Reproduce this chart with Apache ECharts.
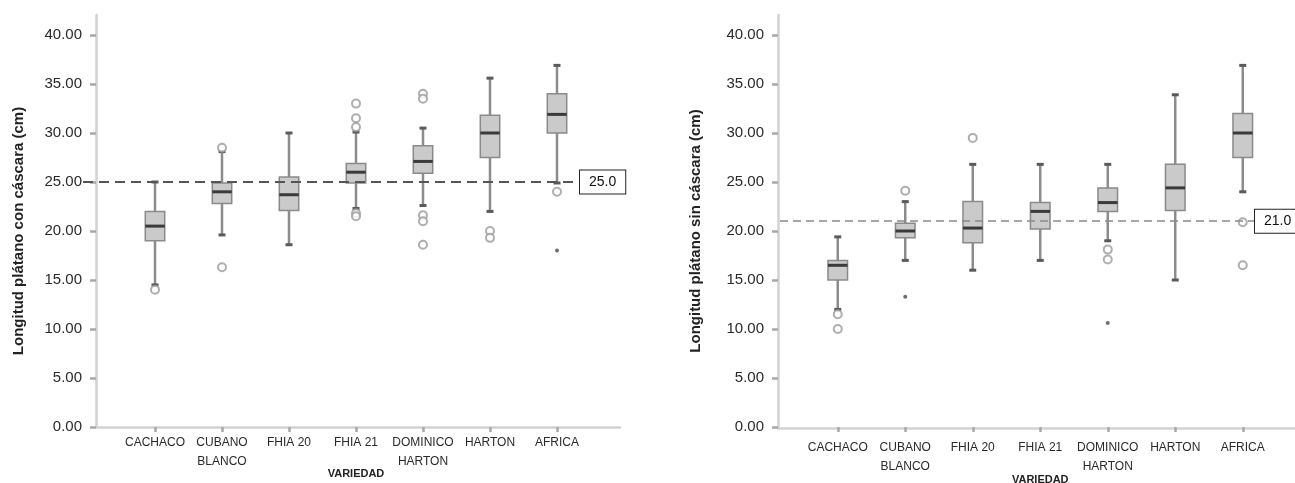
<!DOCTYPE html>
<html>
<head>
<meta charset="utf-8">
<script src="https://cdn.jsdelivr.net/npm/echarts@6/dist/echarts.min.js"></script>
<style>
  html, body { margin: 0; padding: 0; background: #fff; }
  #chart { width: 1295px; height: 483px; }
</style>
</head>
<body>
<div id="chart"></div>
<script>
  // categorias (eje x)
  const categories = ['CACHACO', 'CUBANO\nBLANCO', 'FHIA 20', 'FHIA 21', 'DOMINICO\nHARTON', 'HARTON', 'AFRICA']
  // eje y
  const yMin = 0
  const yMax = 40
  const yStep = 5

  // con cascara: [min, Q1, mediana, Q3, max]
  const conCascaraBox = [
    [14.5, 19.0, 20.5, 22.0, 25.0],
    [19.6, 22.8, 24.0, 24.9, 28.1],
    [18.6, 22.1, 23.7, 25.5, 30.0],
    [22.3, 24.9, 26.0, 26.9, 30.1],
    [22.6, 25.9, 27.1, 28.7, 30.5],
    [22.0, 27.5, 30.0, 31.8, 35.6],
    [24.9, 30.0, 31.9, 34.0, 36.9],
  ]
  const conCascaraOutliers = [
    [0, 14.0], [1, 28.5], [1, 16.3],
    [3, 33.0], [3, 31.5], [3, 30.6], [3, 21.8], [3, 21.5],
    [4, 34.0], [4, 33.5], [4, 21.6], [4, 21.0], [4, 18.6],
    [5, 20.0], [5, 19.3], [6, 24.0],
  ]
  const conCascaraExtremes = [[6, 18.0]]
  const conCascaraRef = 25.0

  // sin cascara
  const sinCascaraBox = [
    [12.0, 15.0, 16.5, 17.0, 19.4],
    [17.0, 19.3, 20.0, 20.8, 23.0],
    [16.0, 18.8, 20.3, 23.0, 26.8],
    [17.0, 20.2, 22.0, 22.9, 26.8],
    [19.0, 22.0, 22.9, 24.4, 26.8],
    [15.0, 22.1, 24.4, 26.8, 33.9],
    [24.0, 27.5, 30.0, 32.0, 36.9],
  ]
  const sinCascaraOutliers = [
    [0, 11.5], [0, 10.0], [1, 24.1], [2, 29.5],
    [4, 18.1], [4, 17.1], [6, 20.9], [6, 16.5],
  ]
  const sinCascaraExtremes = [[1, 13.3], [4, 10.6]]
  const sinCascaraRef = 21.0

  const font = "'Liberation Sans', Arial, sans-serif"

  const renderBox = (params, api) => {
    const idx = api.value(0)
    const low = api.coord([idx, api.value(1)])
    const q1 = api.coord([idx, api.value(2)])
    const med = api.coord([idx, api.value(3)])
    const q3 = api.coord([idx, api.value(4)])
    const high = api.coord([idx, api.value(5)])
    const w = api.size([1, 0])[0] * 0.29
    const x = low[0]
    const cap = 3.5
    const whisker = { stroke: '#8c8c8c', lineWidth: 2.5 }
    const capStyle = { stroke: '#5a5a5a', lineWidth: 3 }
    return {
      type: 'group',
      children: [
        { type: 'line', shape: { x1: x, y1: high[1], x2: x, y2: q3[1] }, style: whisker },
        { type: 'line', shape: { x1: x, y1: q1[1], x2: x, y2: low[1] }, style: whisker },
        { type: 'line', shape: { x1: x - cap, y1: high[1], x2: x + cap, y2: high[1] }, style: capStyle },
        { type: 'line', shape: { x1: x - cap, y1: low[1], x2: x + cap, y2: low[1] }, style: capStyle },
        {
          type: 'rect',
          shape: { x: x - w / 2, y: q3[1], width: w, height: q1[1] - q3[1] },
          style: { fill: '#cacaca', stroke: '#8a8a8a', lineWidth: 1.5 },
        },
        { type: 'line', shape: { x1: x - w / 2, y1: med[1], x2: x + w / 2, y2: med[1] }, style: { stroke: '#3a3a3a', lineWidth: 3 } },
      ],
    }
  }

  const grid = []
  const xAxis = []
  const yAxis = []
  const series = []

  // arma un panel: un grid "marco" para las lineas de ejes y otro para los datos
  const addPanel = p => {
    const g = grid.length
    grid.push(
      Object.assign({ outerBoundsMode: 'none', containLabel: false }, p.frame),
      Object.assign({ outerBoundsMode: 'none', containLabel: false }, p.data)
    )
    xAxis.push(
      {
        gridIndex: g, type: 'value', min: 0, max: 1,
        axisLine: { show: true, lineStyle: { color: '#d2d2d2', width: 2.5 } },
        axisTick: { show: false }, axisLabel: { show: false }, splitLine: { show: false },
      },
      {
        gridIndex: g + 1, type: 'category', data: categories, boundaryGap: true,
        axisLine: { show: false },
        axisTick: { show: true, alignWithLabel: true, length: 5, lineStyle: { color: '#a8a8a8', width: 2.5 } },
        axisLabel: { margin: p.labelMargin, fontSize: 12, lineHeight: 19, color: '#2a2a2a', fontFamily: font, interval: 0 },
        name: 'VARIEDAD', nameLocation: 'middle', nameGap: p.xNameGap, nameMoveOverlap: false,
        nameTextStyle: { fontSize: 11, fontWeight: 'bold', color: '#222', fontFamily: font },
      }
    )
    yAxis.push(
      {
        gridIndex: g, type: 'value', min: 0, max: 1,
        axisLine: { show: true, lineStyle: { color: '#d2d2d2', width: 2.5 } },
        axisTick: { show: false }, axisLabel: { show: false }, splitLine: { show: false },
      },
      {
        gridIndex: g + 1, type: 'value', min: yMin, max: yMax, interval: yStep,
        offset: p.data.left - p.frame.left,
        axisLine: { show: false },
        axisTick: { show: true, length: 6, lineStyle: { color: '#a8a8a8', width: 2.5 } },
        axisLabel: { margin: 14, fontSize: 15, color: '#2a2a2a', fontFamily: font, formatter: v => v.toFixed(2) },
        splitLine: { show: false },
        name: p.yName, nameLocation: 'middle', nameGap: p.yNameGap, nameRotate: 90, nameMoveOverlap: false,
        nameTextStyle: { fontSize: 15, fontWeight: 'bold', color: '#222', fontFamily: font },
      }
    )
    series.push(
      {
        type: 'custom',
        xAxisIndex: g + 1,
        yAxisIndex: g + 1,
        renderItem: renderBox,
        encode: { x: 0, y: [1, 2, 3, 4, 5] },
        data: p.box.map((b, i) => [i].concat(b)),
        z: 2,
      },
      {
        type: 'scatter',
        xAxisIndex: g + 1,
        yAxisIndex: g + 1,
        symbol: 'emptyCircle',
        symbolSize: 8,
        itemStyle: { color: '#9a9a9a', borderWidth: 1.5 },
        data: p.outliers,
        z: 3,
        markLine: {
          silent: true,
          symbol: 'none',
          lineStyle: p.refStyle,
          label: {
            show: true, position: 'end', distance: 0, formatter: p.ref.toFixed(1),
            fontSize: 14, color: '#111', fontFamily: font,
            backgroundColor: '#fff', borderColor: '#222', borderWidth: 1, padding: [5, 9, 4, 9],
          },
          data: [[{ x: p.refFrom, yAxis: p.ref }, { x: p.refTo, yAxis: p.ref }]],
        },
      },
      {
        type: 'scatter',
        xAxisIndex: g + 1,
        yAxisIndex: g + 1,
        symbol: 'circle',
        symbolSize: 4,
        itemStyle: { color: '#4a4a4a' },
        data: p.extremes,
        z: 3,
      }
    )
  }

  addPanel({
    frame: { left: 96, top: 15, width: 524, height: 412 },
    data: { left: 121.5, top: 35, width: 469, height: 392 },
    labelMargin: 6,
    xNameGap: 41,
    yName: 'Longitud plátano con cáscara (cm)',
    yNameGap: 70,
    box: conCascaraBox,
    outliers: conCascaraOutliers,
    extremes: conCascaraExtremes,
    ref: conCascaraRef,
    refFrom: 83,
    refTo: 580,
    refStyle: { color: '#555', width: 2, type: [10, 6] },
  })
  addPanel({
    frame: { left: 778, top: 15, width: 517, height: 413 },
    data: { left: 804, top: 35, width: 472.5, height: 392 },
    labelMargin: 11,
    xNameGap: 47,
    yName: 'Longitud plátano sin cáscara (cm)',
    yNameGap: 75,
    box: sinCascaraBox,
    outliers: sinCascaraOutliers,
    extremes: sinCascaraExtremes,
    ref: sinCascaraRef,
    refFrom: 780,
    refTo: 1255,
    refStyle: { color: '#8a8a8a', width: 1.5, type: [8, 5] },
  })

  const myChart = echarts.init(document.getElementById('chart'))
  const option = {
    animation: false,
    backgroundColor: '#fff',
    grid: grid,
    xAxis: xAxis,
    yAxis: yAxis,
    series: series,
  }
  option && myChart.setOption(option)
</script>
</body>
</html>
